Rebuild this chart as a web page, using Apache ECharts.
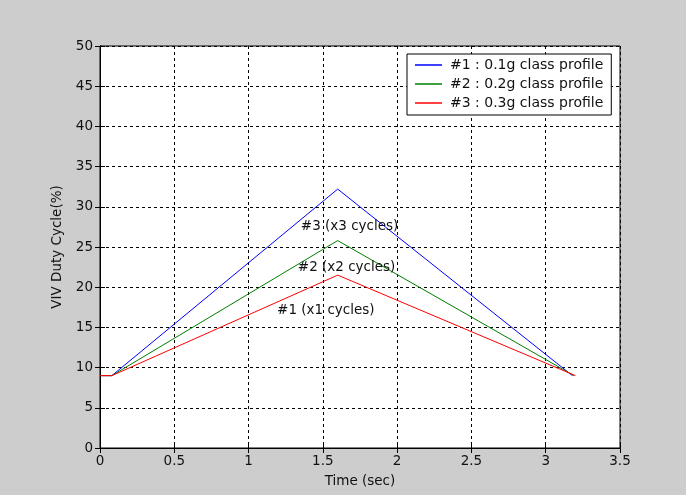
<!DOCTYPE html>
<html>
  <head>
    <meta charset="utf-8" />
    <title>VIV Duty Cycle</title>
    <script src="https://cdn.jsdelivr.net/npm/echarts@6/dist/echarts.min.js"></script>
    <style>
      * {
        margin: 0;
        padding: 0;
        box-sizing: border-box;
      }
      body {
        background: #cdcdcd;
      }
    </style>
  </head>
  <body>
    <div id="main" style="width: 686px; height: 495px"></div>
    <script type="text/javascript">
      var myChart = echarts.init(document.getElementById("main"));

      const seriesNames = [
        "#1 : 0.1g class profile",
        "#2 : 0.2g class profile",
        "#3 : 0.3g class profile",
      ];
      const seriesColors = ["#0000ff", "#008000", "#ff0000"];
      // time (sec), duty cycle (%)
      const profile1 = [[0, 9], [0.08, 9], [1.6, 32.2], [3.18, 9]];
      const profile2 = [[0, 9], [0.08, 9], [1.6, 25.8], [3.19, 9]];
      const profile3 = [[0, 9], [0.08, 9], [1.6, 21.5], [3.2, 9]];
      // annotations: [time, value, text]
      const notes = [
        [1.68, 27.5, "#3 (x3 cycles)"],
        [1.66, 22.4, "#2 (x2 cycles)"],
        [1.52, 17.1, "#1 (x1 cycles)"],
      ];

      const font = "DejaVu Sans";
      const fs = 13.5;
      const profiles = [profile1, profile2, profile3];

      const axisCommon = {
        type: "value",
        axisLine: { show: true, lineStyle: { color: "#000", width: 1 } },
        axisTick: { show: true, inside: true, length: 5, lineStyle: { color: "#000" } },
        axisLabel: { color: "#111", fontFamily: font, fontSize: fs },
        nameTextStyle: { color: "#111", fontFamily: font, fontSize: fs },
      };
      const gridLine = { show: true, lineStyle: { color: "#000", type: [3, 3], width: 1 } };

      var option = {
        backgroundColor: "#cdcdcd",
        animation: false,
        grid: {
          left: 100,
          right: 66,
          top: 46,
          bottom: 47,
          show: true,
          backgroundColor: "#fff",
          borderColor: "#000",
          borderWidth: 1,
        },
        legend: {
          orient: "vertical",
          left: 407,
          top: 54,
          data: seriesNames,
          backgroundColor: "#fff",
          borderColor: "#000",
          borderWidth: 1,
          borderRadius: 0,
          padding: [4, 8, 5, 8],
          itemGap: 5,
          itemWidth: 27,
          itemHeight: 1.5,
          icon: "rect",
          textStyle: {
            color: "#111",
            fontFamily: font,
            fontSize: 14,
            lineHeight: 14,
            padding: [0, 0, 0, 3],
          },
        },
        xAxis: [
          Object.assign({}, axisCommon, {
            min: 0,
            max: 3.5,
            interval: 0.5,
            name: "Time (sec)",
            nameLocation: "middle",
            nameGap: 26,
            axisLabel: Object.assign({}, axisCommon.axisLabel, { margin: 6 }),
            splitLine: gridLine,
          }),
          Object.assign({}, axisCommon, {
            position: "top",
            min: 0,
            max: 3.5,
            interval: 0.5,
            axisLabel: { show: false },
            splitLine: { show: false },
          }),
        ],
        yAxis: [
          Object.assign({}, axisCommon, {
            min: 0,
            max: 50,
            interval: 5,
            name: "VIV Duty Cycle(%)",
            nameLocation: "middle",
            nameGap: 33,
            axisLabel: Object.assign({}, axisCommon.axisLabel, { margin: 7 }),
            splitLine: gridLine,
          }),
          Object.assign({}, axisCommon, {
            position: "right",
            min: 0,
            max: 50,
            interval: 5,
            axisLabel: { show: false },
            splitLine: { show: false },
          }),
        ],
        series: profiles.map((data, i) => ({
          name: seriesNames[i],
          type: "line",
          data: data,
          symbol: "none",
          lineStyle: { color: seriesColors[i], width: 1 },
          itemStyle: { color: seriesColors[i] },
          markPoint:
            i === 0
              ? {
                  symbol: "circle",
                  symbolSize: 0,
                  data: notes.map((n) => ({
                    coord: [n[0], n[1]],
                    label: {
                      show: true,
                      position: "inside",
                      formatter: n[2],
                      color: "#111",
                      fontFamily: font,
                      fontSize: fs,
                    },
                  })),
                }
              : undefined,
        })),
      };

      myChart.setOption(option);
    </script>
  </body>
</html>
